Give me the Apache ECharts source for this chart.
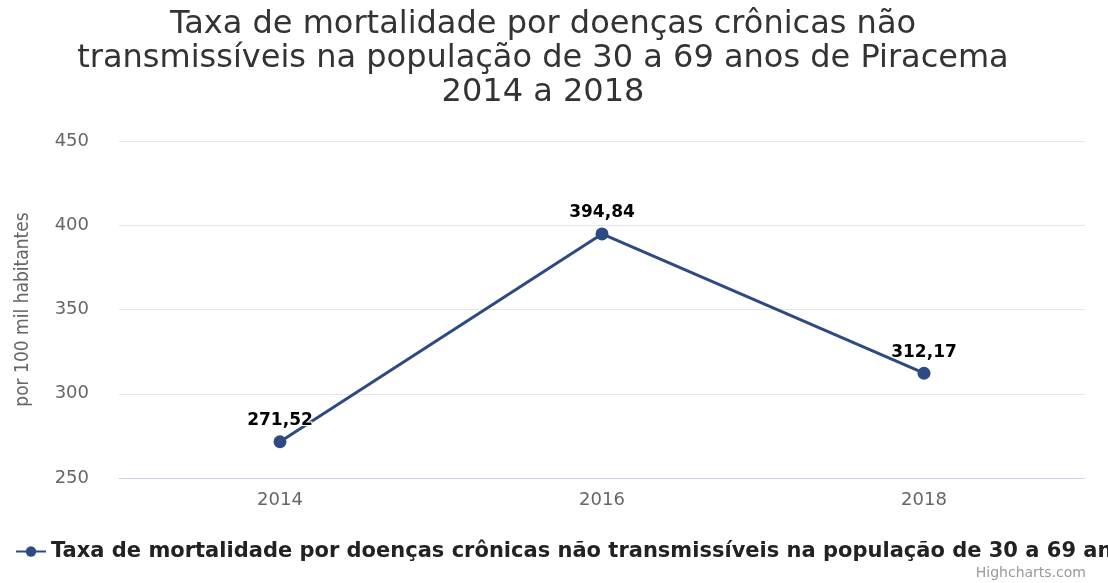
<!DOCTYPE html>
<html>
<head>
<meta charset="utf-8">
<script src="https://cdn.jsdelivr.net/npm/echarts@6/dist/echarts.min.js"></script>
<style>
	html, body { margin: 0; padding: 0; background: #fff; }
	#chart { width: 1108px; height: 583px; }
</style>
</head>
<body>
<div id="chart"></div>
<script>
const anos = ['2014', '2016', '2018'];
const taxas = [271.52, 394.84, 312.17];
const yTicks = [250, 300, 350, 400, 450];
const serieNome = 'Taxa de mortalidade por doenças crônicas não transmissíveis na população de 30 a 69 anos de Piracema';

let chart = echarts.init(document.getElementById('chart'));
let option = {
	backgroundColor: '#ffffff',
	animation: false,
	title: {
		text: 'Taxa de mortalidade por doenças crônicas não\ntransmissíveis na população de 30 a 69 anos de Piracema\n2014 a 2018',
		left: 538,
		textAlign: 'center',
		top: 3,
		textStyle: {
			fontFamily: 'DejaVu Sans',
			fontSize: 32,
			fontWeight: 'normal',
			color: '#333333',
			lineHeight: 34
		}
	},
	legend: {
		data: [serieNome],
		left: 10,
		top: 536,
		itemWidth: 30,
		itemHeight: 13,
		itemGap: 8,
		textStyle: {
			fontFamily: 'DejaVu Sans',
			fontSize: 21,
			fontWeight: 'bold',
			color: '#222222'
		}
	},
	grid: {
		left: 119,
		right: 23,
		top: 141,
		bottom: 105
	},
	xAxis: {
		type: 'category',
		data: anos,
		boundaryGap: true,
		axisLine: { lineStyle: { color: '#ccd6eb' } },
		axisTick: { show: false },
		axisLabel: {
			fontFamily: 'DejaVu Sans',
			fontSize: 18,
			color: '#666666',
			margin: 13
		}
	},
	yAxis: {
		type: 'value',
		min: yTicks[0],
		max: yTicks[yTicks.length - 1],
		interval: 50,
		name: 'por 100 mil habitantes',
		nameLocation: 'middle',
		nameRotate: 90,
		nameGap: 86,
		nameTextStyle: {
			fontFamily: 'DejaVu Sans Condensed, Liberation Sans Narrow, Liberation Sans',
			fontSize: 19,
			color: '#666666'
		},
		axisLine: { show: false },
		axisTick: { show: false },
		splitLine: { lineStyle: { color: '#e6e6e6' } },
		axisLabel: {
			fontFamily: 'DejaVu Sans',
			fontSize: 18,
			color: '#666666',
			margin: 30
		}
	},
	graphic: [{
		type: 'text',
		right: 22,
		top: 566,
		style: {
			text: 'Highcharts.com',
			fontFamily: 'DejaVu Sans',
			fontSize: 14,
			fill: '#999999'
		}
	}],
	series: [{
		name: serieNome,
		type: 'line',
		data: taxas,
		symbol: 'circle',
		symbolSize: 13,
		itemStyle: { color: '#2d4a82' },
		lineStyle: { width: 3, color: '#2d4a82' },
		label: {
			show: true,
			position: 'top',
			distance: 6,
			fontFamily: 'DejaVu Sans',
			fontSize: 17,
			fontWeight: 'bold',
			color: '#000000',
			textBorderColor: '#ffffff',
			textBorderWidth: 2,
			formatter: function (p) {
				return p.value.toFixed(2).replace('.', ',');
			}
		}
	}]
};
chart.setOption(option);
</script>
</body>
</html>
